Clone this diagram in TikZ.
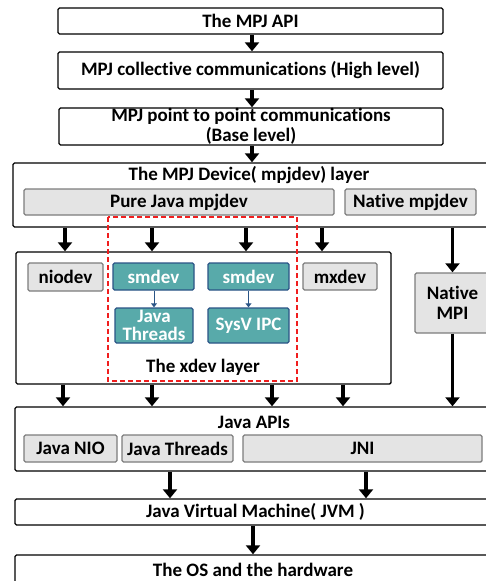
\documentclass[tikz,border=0pt]{standalone}
\usepackage{fontspec}
\setmainfont{Carlito}[Ligatures=NoCommon]
\usetikzlibrary{arrows.meta}
\definecolor{greyfill}{RGB}{228,228,228}
\definecolor{greyline}{RGB}{125,125,125}
\definecolor{tealfill}{RGB}{88,170,170}
\definecolor{tealline}{RGB}{42,84,134}
\definecolor{dashred}{RGB}{240,30,30}
\tikzset{
  bigbox/.style={draw=black, line width=1.4pt, fill=white, rounded corners=1.5pt, inner sep=0pt, align=center},
  greybox/.style={draw=greyline, line width=1.4pt, fill=greyfill, rounded corners=1.5pt, inner sep=0pt, align=center},
  tealbox/.style={draw=tealline, line width=1.4pt, fill=tealfill, rounded corners=1.5pt, inner sep=0pt, align=center, text=white},
  lbl/.style={inner sep=0pt, align=center},
  arr/.style={line width=3.6pt, -{Triangle[width=14pt,length=9pt]}},
  thin arr/.style={draw=tealline, line width=1pt, -{Triangle[width=6pt,length=4pt]}},
  every node/.style={font=\bfseries\fontsize{19}{19.5}\selectfont}
}
\begin{document}
\begin{tikzpicture}[x=1pt,y=-1pt]
\useasboundingbox (0,0) rectangle (486,581);
% top stack
\node[bigbox, minimum width=385pt, minimum height=26pt] (api) at (250.5,21) {The MPJ API};
\node[bigbox, minimum width=385pt, minimum height=37pt] (coll) at (250.5,70.5) {MPJ collective communications (High level)};
\node[bigbox, minimum width=384pt, minimum height=37pt] (p2p) at (251,126.5) {MPJ point to point communications\\(Base level)};
% device layer
\node[bigbox, minimum width=483pt, minimum height=64pt] (dev) at (254.5,195) {};
\node[lbl] (devt) at (249,175.5) {The MPJ Device( mpjdev) layer};
\node[greybox, minimum width=310pt, minimum height=26pt] (pure) at (179,202) {Pure Java mpjdev};
\node[greybox, minimum width=131pt, minimum height=26pt] (natdev) at (410.5,202) {Native mpjdev};
% xdev layer
\node[bigbox, minimum width=375pt, minimum height=132pt] (xdev) at (203.5,318) {};
\draw[dashred, line width=1.6pt, dash pattern=on 5pt off 3pt] (108,217) rectangle (297,381);
\node[lbl] (xdevt) at (203,367) {The xdev layer};
\node[greybox, minimum width=75pt, minimum height=28pt] (nio) at (65.5,277) {niodev};
\node[tealbox, minimum width=81pt, minimum height=27pt] (sm1) at (153.5,276.5) {smdev};
\node[tealbox, minimum width=81pt, minimum height=27pt] (sm2) at (248.5,276.5) {smdev};
\node[greybox, minimum width=74pt, minimum height=27pt] (mx) at (340,276.5) {mxdev};
\node[tealbox, minimum width=78pt, minimum height=35pt, font=\bfseries\fontsize{19}{18.5}\selectfont] (jt) at (154,325.5) {Java\\Threads};
\node[tealbox, minimum width=81pt, minimum height=35pt] (sysv) at (248.5,325.5) {SysV IPC};
\node[greybox, minimum width=75pt, minimum height=60pt] (nmpi) at (452.5,303) {Native\\MPI};
% Java APIs
\node[bigbox, minimum width=481pt, minimum height=64pt] (japi) at (255.5,439) {};
\node[lbl] (japit) at (254,422) {Java APIs};
\node[greybox, minimum width=93pt, minimum height=27pt] (jnio) at (70.5,448.5) {Java NIO};
\node[greybox, minimum width=111pt, minimum height=27pt] (jth) at (177.5,448.5) {Java Threads};
\node[greybox, minimum width=239pt, minimum height=27pt] (jni) at (362.5,448.5) {JNI};
% JVM and OS
\node[bigbox, minimum width=481pt, minimum height=26pt] (jvm) at (255.5,512) {Java Virtual Machine( JVM )};
\node[bigbox, minimum width=481pt, minimum height=45pt] (os) at (255.5,577.5) {};
\node[lbl] (ost) at (253,570) {The OS and the hardware};
% x positions for arrows
\coordinate (a1) at (65,0);
\coordinate (a2) at (152,0);
\coordinate (a3) at (246,0);
\coordinate (a4) at (322,0);
\coordinate (b1) at (63,0);
\coordinate (b2) at (152,0);
\coordinate (b3) at (272,0);
\coordinate (b4) at (343,0);
\coordinate (c1) at (170,0);
\coordinate (c2) at (366,0);
\coordinate (d1) at (253,0);
\coordinate (e1) at (252,0);
% arrows
\draw[arr] (api.south -| e1) -- (coll.north -| e1);
\draw[arr] (coll.south -| e1) -- (p2p.north -| e1);
\draw[arr] (p2p.south -| e1) -- (dev.north -| e1);
\draw[arr] (dev.south -| a1) -- (xdev.north -| a1);
\draw[arr] (dev.south -| a2) -- (xdev.north -| a2);
\draw[arr] (dev.south -| a3) -- (xdev.north -| a3);
\draw[arr] (dev.south -| a4) -- (xdev.north -| a4);
\draw[arr] (dev.south -| nmpi) -- (nmpi.north);
\draw[thin arr] (sm1.south -| jt) -- (jt.north);
\draw[thin arr] (sm2.south) -- (sysv.north);
\draw[arr] (xdev.south -| b1) -- (japi.north -| b1);
\draw[arr] (xdev.south -| b2) -- (japi.north -| b2);
\draw[arr] (xdev.south -| b3) -- (japi.north -| b3);
\draw[arr] (xdev.south -| b4) -- (japi.north -| b4);
\draw[arr] (nmpi.south) -- (japi.north -| nmpi);
\draw[arr] (japi.south -| c1) -- (jvm.north -| c1);
\draw[arr] (japi.south -| c2) -- (jvm.north -| c2);
\draw[arr] (jvm.south -| d1) -- (os.north -| d1);
\end{tikzpicture}
\end{document}
